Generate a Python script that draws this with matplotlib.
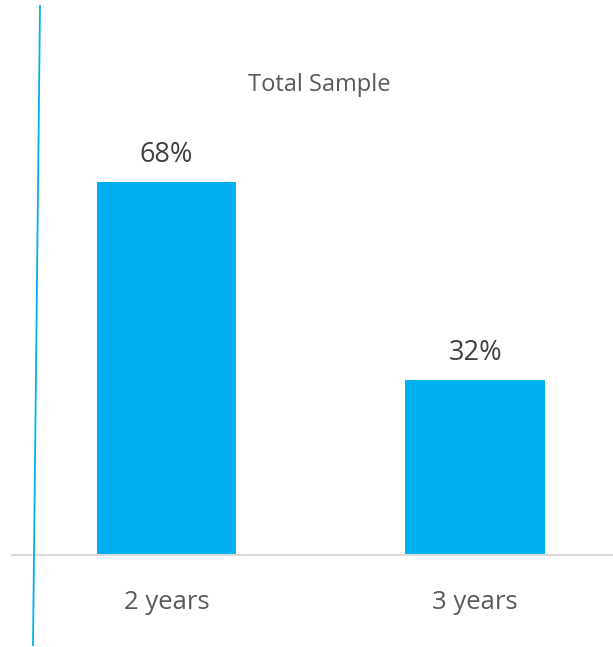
import matplotlib
matplotlib.use("Agg")
import matplotlib.pyplot as plt
from matplotlib.lines import Line2D

categories = ["2 years", "3 years"]
values = [68, 32]
value_labels = ["68%", "32%"]
title = "Total Sample"

plt.rcParams['font.family'] = ['Open Sans', 'DejaVu Sans']

W, H = 613, 647
fig = plt.figure(figsize=(W/100, H/100), dpi=100)
ax = fig.add_axes([12/W, (H-555)/H, 1-12/W, 555/H])

blue = "#00B0F0"
x = list(range(len(categories)))
ax.bar(x, values, width=0.452, color=blue, zorder=2)
ax.set_xlim(-0.5, 1.446)
ax.set_ylim(0, 555/5.48)

for s in ["top", "right", "left"]:
    ax.spines[s].set_visible(False)
ax.spines["bottom"].set_color("#d9d9d9")
ax.spines["bottom"].set_linewidth(1.5)
ax.set_yticks([])
ax.set_xticks(x)
ax.set_xticklabels(categories, fontsize=18.5, color="#595959")
ax.tick_params(axis="x", length=0, pad=25)

for xi, v, lab in zip(x, values, value_labels):
    ax.annotate(lab, (xi, v), xytext=(0, 19.5), textcoords="offset points",
                ha="center", va="center", fontsize=19.5, color="#404040")

fig.text(319/W, 1-85/H, title, ha="center", va="center", fontsize=17, color="#595959")

fig.add_artist(Line2D([40/W, 33/W], [1-6/H, 1-645/H], transform=fig.transFigure,
                      color=blue, linewidth=1.3))

fig.savefig("out.png", dpi=100)
